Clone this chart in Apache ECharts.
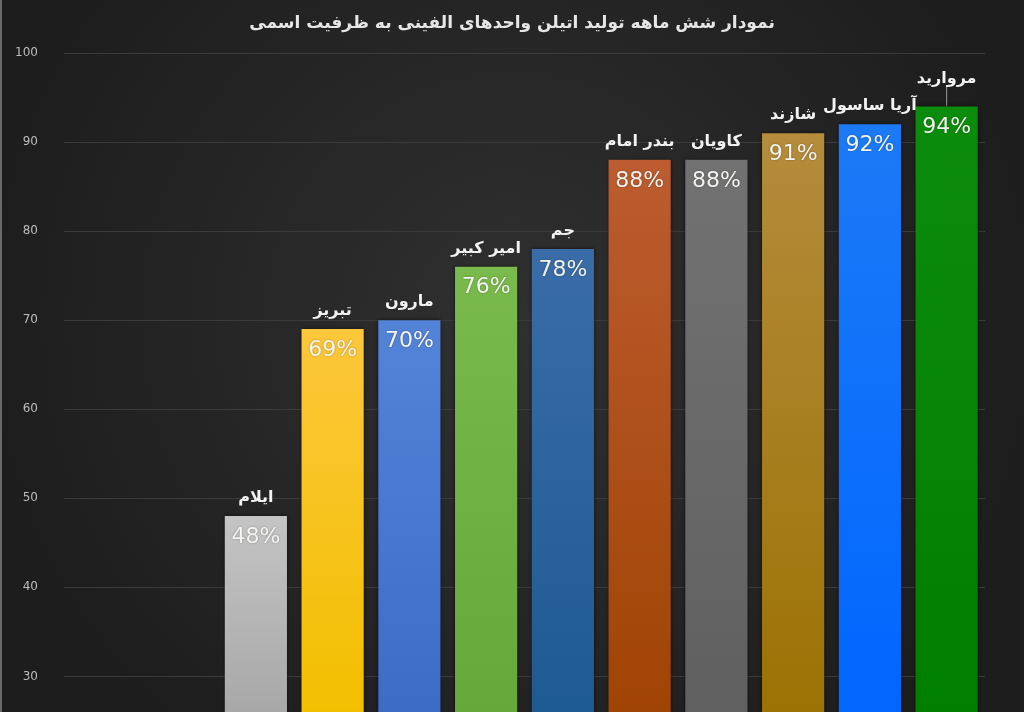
<!DOCTYPE html>
<html lang="fa">
<head>
    <meta charset="utf-8">
    <title>تولید اتیلن</title>
    <script src="https://cdn.jsdelivr.net/npm/echarts@6/dist/echarts.min.js"></script>
    <style>
        html, body { margin: 0; padding: 0; background: #222; }
        #chart { width: 1024px; height: 712px; }
    </style>
</head>
<body>
    <div id="chart"></div>

    <script>
        // داده‌ها (دو دسته اول خالی هستند تا فاصله سمت چپ مثل تصویر بماند)
        const units = ['', '', 'ایلام', 'تبریز', 'مارون', 'امیر کبیر', 'جم', 'بندر امام', 'کاویان', 'شازند', 'آریا ساسول', 'مروارید'];
        const values = [null, null, 48, 69, 70, 76, 78, 88, 88, 91, 92, 94];
        const topColors = ['', '', '#c4c4c4', '#fcc73a', '#5484d8', '#7aba4c', '#3a6ca8', '#bc5c30', '#727272', '#b48c3c', '#1c7af6', '#0c8c0c'];
        const bottomColors = ['', '', '#a8a8a8', '#f2bf00', '#3c6cc6', '#66a83a', '#1e5a94', '#a04404', '#606060', '#9c7204', '#0066ff', '#007e00'];
        const yTicks = [30, 40, 50, 60, 70, 80, 90, 100];

        const font = "'DejaVu Sans', 'Noto Sans', sans-serif";

        const barData = values.map((v, i) => ({
            value: v,
            itemStyle: {
                color: new echarts.graphic.LinearGradient(0, 0, 0, 1, [
                    { offset: 0, color: topColors[i] || '#000' },
                    { offset: 1, color: bottomColors[i] || '#000' }
                ])
            }
        }));

        // فقط برچسب مروارید خط راهنما دارد
        const nameData = values.map((v, i) => ({
            value: v,
            labelLine: { show: i === 11 }
        }));

        const chart = echarts.init(document.getElementById('chart'));
        const option = {
            backgroundColor: new echarts.graphic.RadialGradient(0.5, 0.45, 0.75, [
                { offset: 0, color: '#303030' },
                { offset: 1, color: '#1d1d1d' }
            ]),
            title: {
                text: 'نمودار شش ماهه تولید اتیلن واحدهای الفینی به ظرفیت اسمی',
                left: 'center',
                top: 10,
                textStyle: { color: '#e6e6e6', fontSize: 17, fontWeight: 'bold', fontFamily: font }
            },
            graphic: [{
                type: 'rect',
                left: 0, top: 0,
                shape: { width: 2, height: 712 },
                style: { fill: '#6a6a6a' }
            }],
            // پایین محور (حدود ۲۶) دقیقا لبه پایین صفحه است
            grid: { left: 64, right: 39, top: 53, bottom: 0 },
            xAxis: {
                type: 'category',
                data: units,
                axisLine: { show: false },
                axisTick: { show: false },
                axisLabel: { show: false }
            },
            yAxis: {
                type: 'value',
                min: 26,
                max: 100,
                splitNumber: 8,
                axisLine: { show: false },
                axisTick: { show: false },
                axisLabel: {
                    color: '#bdbdbd',
                    fontSize: 12,
                    fontFamily: font,
                    margin: 26,
                    formatter: v => yTicks.includes(v) ? String(v) : ''
                },
                splitLine: { lineStyle: { color: '#3b3b3b', width: 1 } }
            },
            series: [
                {
                    type: 'bar',
                    data: barData,
                    barCategoryGap: '19%',
                    itemStyle: { shadowColor: 'rgba(0,0,0,0.6)', shadowBlur: 4 },
                    label: {
                        show: true,
                        position: 'insideTop',
                        distance: 10,
                        color: '#f4f4f0',
                        fontSize: 22,
                        fontFamily: font,
                        textShadowColor: 'rgba(0,0,0,0.35)',
                        textShadowBlur: 2,
                        formatter: p => p.value == null ? '' : p.value + '%'
                    }
                },
                {
                    // ردیف نام واحدها بالای هر ستون
                    type: 'bar',
                    data: nameData,
                    barGap: '-100%',
                    barCategoryGap: '19%',
                    silent: true,
                    itemStyle: { color: 'rgba(0,0,0,0)' },
                    label: {
                        show: true,
                        position: 'top',
                        distance: 10,
                        color: '#f2f2f2',
                        fontSize: 16,
                        fontWeight: 'bold',
                        fontFamily: font,
                        formatter: p => units[p.dataIndex]
                    },
                    labelLine: { lineStyle: { color: '#9a9a9a', width: 1 } },
                    labelLayout: p => p.dataIndex === 11 ? { dy: -10 } : {}
                }
            ]
        };
        chart.setOption(option);
    </script>
</body>
</html>
